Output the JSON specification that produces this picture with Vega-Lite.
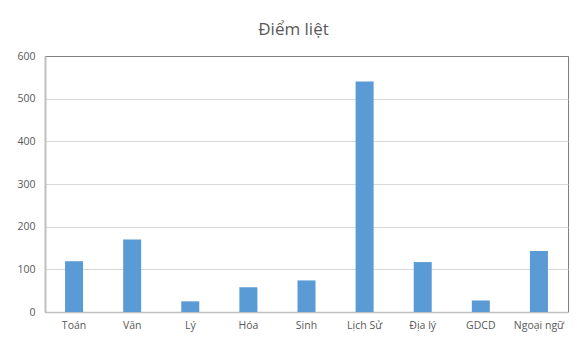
{
  "$schema": "https://vega.github.io/schema/vega-lite/v6.json",
  "width": 523,
  "height": 256,
  "autosize": "none",
  "padding": {"left": 45, "top": 56, "right": 19, "bottom": 38},
  "background": "white",
  "title": {
    "text": "Điểm liệt",
    "font": "Open Sans",
    "fontSize": 17,
    "fontWeight": "normal",
    "color": "#595959",
    "anchor": "middle",
    "dx": -13,
    "offset": 12
  },
  "data": {
    "values": [
      {"subject": "Toán", "value": 119},
      {"subject": "Văn", "value": 170},
      {"subject": "Lý", "value": 25},
      {"subject": "Hóa", "value": 58},
      {"subject": "Sinh", "value": 74},
      {"subject": "Lịch Sử", "value": 540},
      {"subject": "Địa lý", "value": 117},
      {"subject": "GDCD", "value": 27},
      {"subject": "Ngoại ngữ", "value": 143}
    ]
  },
  "mark": {"type": "bar", "color": "#5b9bd5"},
  "encoding": {
    "x": {
      "field": "subject",
      "type": "nominal",
      "sort": null,
      "scale": {"paddingInner": 0.69, "paddingOuter": 0.345},
      "axis": {
        "title": null,
        "labelAngle": 0,
        "ticks": false,
        "domainColor": "#bfbfbf",
        "domainWidth": 1.5,
        "labelPadding": 8,
        "labelFont": "Open Sans",
        "labelFontSize": 10.5,
        "labelColor": "#595959"
      }
    },
    "y": {
      "field": "value",
      "type": "quantitative",
      "scale": {"domain": [0, 600]},
      "axis": {
        "title": null,
        "values": [0, 100, 200, 300, 400, 500, 600],
        "ticks": false,
        "domainColor": "#bfbfbf",
        "domainWidth": 2,
        "gridColor": {"condition": {"test": "datum.value === 600", "value": "#7f7f7f"}, "value": "#d9d9d9"},
        "labelPadding": 10,
        "labelFont": "Open Sans",
        "labelFontSize": 10.5,
        "labelColor": "#595959"
      }
    }
  },
  "config": {
    "view": {"stroke": "#7f7f7f", "strokeWidth": 1}
  }
}
